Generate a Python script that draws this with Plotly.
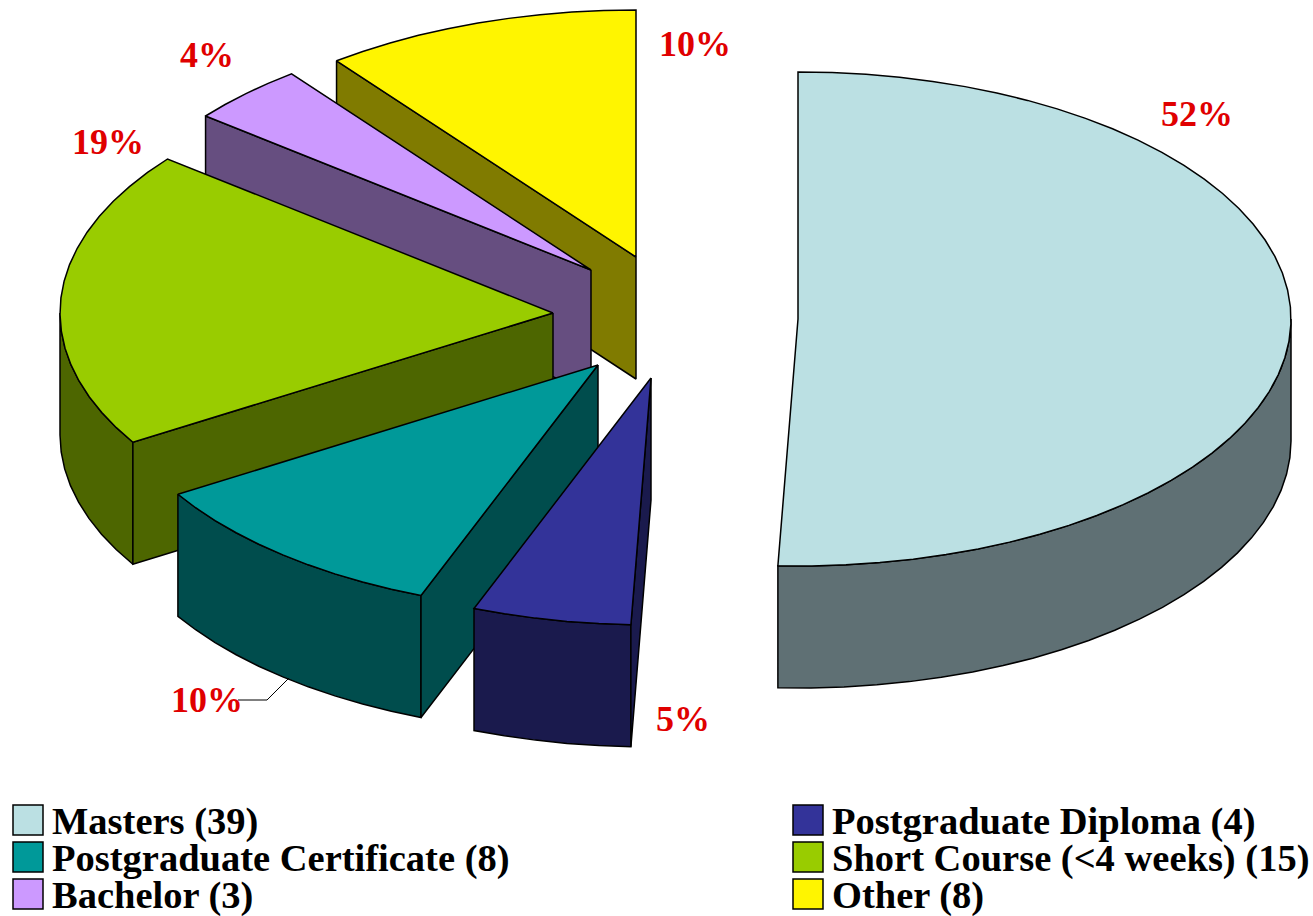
import math
import plotly.graph_objects as go

categories = ["Masters (39)", "Postgraduate Diploma (4)", "Postgraduate Certificate (8)",
              "Short Course (<4 weeks) (15)", "Bachelor (3)", "Other (8)"]
values = [39, 4, 8, 15, 3, 8]
pct_labels = ["52%", "5%", "10%", "19%", "4%", "10%"]

top_colors = ["#BBE0E3", "#333399", "#009999", "#99CC00", "#CC99FF", "#FFF500"]
side_colors = ["#5F7074", "#1A1A4D", "#004D4D", "#4D6600", "#664E80", "#807B00"]
apex_x = [798, 651, 598, 553, 591, 636]
apex_y = [319, 378, 365, 313, 270, 257]
label_x = [1197, 683, 207, 108, 207, 695]
label_y = [117, 722, 703, 145, 58, 47]
legend_x = [28, 808, 28, 808, 28, 808]
legend_y = [820, 820, 857, 857, 894, 894]
RX, RY, DEPTH = 493, 247, 122
FONT = "Liberation Serif"


def rim(cx, cy, t0, t1, dy=0):
    n = max(2, int(abs(t1 - t0) / 4) + 1)
    ts = [t0 + (t1 - t0) * i / n for i in range(n + 1)]
    return ([cx + RX * math.sin(math.radians(t)) for t in ts],
            [cy - RY * math.cos(math.radians(t)) + dy for t in ts])


def poly(xs, ys, color):
    return go.Scatter(x=xs + xs[:1], y=ys + ys[:1], mode="lines", fill="toself",
                      fillcolor=color, line=dict(color="black", width=1.5),
                      showlegend=False, hoverinfo="skip")


total = sum(values)
starts = []
acc = 0.0
for v in values:
    starts.append(acc)
    acc += v / total * 360

fig = go.Figure()
draw_order = [0, 5, 4, 3, 2, 1]
for i in draw_order:
    cx, cy = apex_x[i], apex_y[i]
    t0 = starts[i]
    t1 = t0 + values[i] / total * 360
    # outer wall: only the front half of the rim is visible
    a, b = max(t0, 90), min(t1, 270)
    if a < b:
        xa, ya = rim(cx, cy, a, b)
        xb, yb = rim(cx, cy, a, b, DEPTH)
        fig.add_trace(poly(xa + xb[::-1], ya + yb[::-1], side_colors[i]))
    # cut face at the start angle, visible on slices left of the centre
    if i != 0:
        ex, ey = rim(cx, cy, t0, t0 + 1e-6)
        fig.add_trace(poly([cx, ex[0], ex[0], cx],
                           [cy, ey[0], ey[0] + DEPTH, cy + DEPTH], side_colors[i]))
    xs, ys = rim(cx, cy, t0, t1)
    fig.add_trace(poly([cx] + xs, [cy] + ys, top_colors[i]))

# leader line of the Postgraduate Certificate label
fig.add_trace(go.Scatter(x=[238, 267, 289], y=[700, 700, 678], mode="lines",
                         line=dict(color="black", width=1), showlegend=False, hoverinfo="skip"))

fig.add_trace(go.Scatter(x=label_x, y=label_y, mode="text",
                         text=[f"<b>{p}</b>" for p in pct_labels],
                         textposition="middle center",
                         textfont=dict(family=FONT, size=36, color="#E00000"),
                         showlegend=False, hoverinfo="skip"))

fig.add_trace(go.Scatter(x=legend_x, y=legend_y, mode="markers",
                         marker=dict(symbol="square", size=30, color=top_colors,
                                     line=dict(color="black", width=1.5)),
                         showlegend=False, hoverinfo="skip"))
fig.add_trace(go.Scatter(x=[x + 24 for x in legend_x], y=[y + 4 for y in legend_y], mode="text",
                         text=[f"<b>{c}</b>" for c in categories],
                         textposition="middle right",
                         textfont=dict(family=FONT, size=38.5, color="black"),
                         showlegend=False, hoverinfo="skip"))

fig.update_layout(width=1313, height=916, margin=dict(l=0, r=0, t=0, b=0),
                  paper_bgcolor="white", plot_bgcolor="white", showlegend=False,
                  xaxis=dict(range=[0, 1313], visible=False, fixedrange=True),
                  yaxis=dict(range=[916, 0], visible=False, fixedrange=True))
fig.write_html("out.html", config={"displayModeBar": False},
               post_script="document.body.style.margin='0';document.body.style.overflow='hidden';")
